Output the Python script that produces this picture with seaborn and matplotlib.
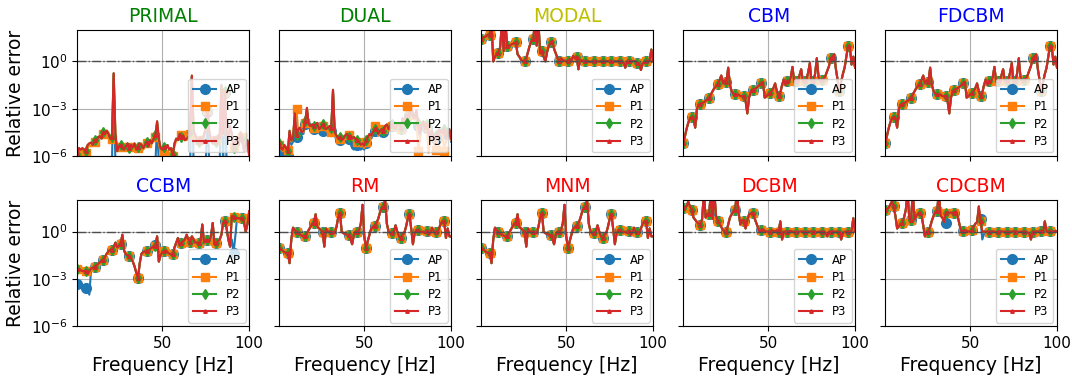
import numpy as np
import matplotlib
matplotlib.use("Agg")
import matplotlib.pyplot as plt
from matplotlib.ticker import NullLocator
import seaborn as sns

# frequency grid [Hz]
freq = list(range(1, 101))

# log10 of the relative error (1 value per Hz)
primal_ap = [-6.6, -6.5, -6.7, -6.5, -6.6, -6.8, -6.5, -6.5, -6.6, -6.5,
             -6.5, -6.6, -6.5, -6.5, -6.6, -6.5, -6.6, -6.5, -6.6, -6.5,
             -6.5, -0.8, -6.5, -6.7, -6.6, -6.5, -6.8, -6.6, -6.5, -6.6,
             -6.6, -6.5, -6.6, -6.5, -6.7, -6.6, -6.5, -6.5, -6.7, -6.5,
             -6.5, -6.5, -6.6, -6.5, -6.6, -6.5, -4.0, -6.5, -6.7, -6.8,
             -6.6, -6.7, -6.5, -6.8, -6.6, -6.9, -6.5, -6.6, -6.5, -6.6,
             -6.5, -6.6, -6.5, -6.6, -6.5, -6.5, -1.0, -6.5, -6.6, -6.5,
             -6.6, -6.5, -6.5, -6.6, -6.5, -3.2, -6.5, -6.6, -6.5, -6.6,
             -6.6, -6.5, -6.5, -1.6, -6.5, -2.0, -6.5, -6.6, -6.5, -6.6,
             -6.6, -6.5, -6.6, -6.5, -6.5, -6.6, -6.8, -6.5, -6.6, -6.9]
primal_p1 = [-5.8, -5.7, -5.6, -5.7, -5.9, -5.8, -5.5, -5.3, -5.4, -5.2,
             -5.1, -5.0, -4.9, -4.8, -4.8, -4.6, -4.5, -4.4, -4.5, -4.8,
             -4.9, -0.8, -4.7, -5.5, -5.5, -5.4, -5.6, -5.5, -5.3, -5.3,
             -5.4, -5.4, -5.3, -5.3, -5.5, -5.5, -5.3, -5.2, -5.6, -5.4,
             -5.2, -5.3, -5.1, -5.1, -5.0, -4.8, -3.9, -5.2, -5.8, -6.1,
             -5.9, -6.2, -5.8, -5.9, -5.7, -6.0, -5.4, -5.0, -4.9, -4.7,
             -4.7, -4.8, -4.9, -5.0, -4.7, -4.6, -0.95, -4.5, -4.8, -4.9,
             -5.0, -4.9, -5.1, -4.7, -4.4, -3.1, -4.5, -4.9, -5.1, -4.9,
             -5.0, -4.8, -4.8, -1.55, -4.7, -1.95, -4.5, -4.9, -4.2, -4.7,
             -5.4, -5.2, -4.9, -5.2, -4.6, -4.8, -5.6, -5.3, -5.1, -6.0]
primal_p3 = [-5.9, -5.5, -5.6, -5.5, -5.6, -5.7, -5.3, -5.2, -5.15, -5.3,
             -5.0, -5.1, -4.8, -4.75, -4.9, -4.5, -4.6, -4.4, -4.6, -4.9,
             -4.8, -0.75, -4.6, -5.7, -5.4, -5.3, -5.5, -5.6, -5.4, -5.2,
             -5.5, -5.3, -5.45, -5.2, -5.6, -5.4, -5.2, -5.3, -5.5, -5.3,
             -5.1, -5.4, -5.0, -5.2, -4.9, -4.7, -3.8, -4.9, -5.5, -5.6,
             -5.4, -5.5, -5.3, -5.6, -5.5, -5.9, -5.2, -4.9, -5.0, -4.6,
             -4.8, -4.7, -5.0, -4.9, -4.8, -4.5, -0.9, -4.4, -4.7, -5.0,
             -5.1, -4.8, -5.2, -4.6, -4.3, -3.05, -4.4, -5.0, -5.2, -4.8,
             -5.1, -4.7, -4.9, -1.5, -4.6, -1.9, -4.4, -5.0, -4.1, -4.6,
             -5.5, -5.1, -4.8, -5.3, -4.5, -4.9, -5.7, -5.2, -5.0, -6.0]

dual_ap = [-5.6, -5.9, -6.1, -5.8, -5.9, -6.0, -4.8, -5.3, -5.1, -3.8,
           -4.8, -4.6, -4.4, -4.6, -4.6, -4.0, -3.1, -4.2, -4.3, -4.2,
           -4.3, -4.2, -4.1, -4.5, -4.6, -4.4, -4.5, -4.6, -4.4, -4.3,
           -4.4, -1.85, -4.7, -5.0, -5.1, -5.0, -5.2, -5.1, -4.9, -4.7,
           -4.9, -5.2, -5.5, -5.6, -5.4, -5.3, -5.4, -5.6, -5.5, -5.6,
           -5.2, -5.0, -4.8, -4.9, -4.7, -4.4, -4.3, -4.7, -4.5, -4.4,
           -4.5, -4.2, -4.1, -4.4, -4.2, -4.1, -4.3, -4.4, -4.1, -4.0,
           -4.3, -3.7, -4.1, -3.5, -3.9, -3.4, -2.8, -3.6, -3.7, -3.2,
           -4.1, -4.8, -4.2, -4.0, -4.5, -4.2, -4.8, -5.0, -4.6, -5.2,
           -4.9, -5.1, -4.5, -4.7, -4.7, -4.5, -5.1, -4.7, -4.5, -5.1]
dual_p1 = [-5.3, -5.5, -5.7, -5.4, -5.6, -5.6, -4.5, -5.1, -4.8, -3.5,
           -3.05, -4.5, -4.3, -4.4, -4.5, -3.9, -3.0, -4.1, -4.2, -4.1,
           -4.2, -4.1, -4.0, -4.4, -4.3, -4.1, -4.3, -4.4, -4.5, -4.6,
           -4.5, -1.9, -4.6, -4.9, -5.0, -4.9, -4.9, -5.0, -4.8, -4.9,
           -4.7, -4.8, -5.0, -4.9, -5.1, -5.1, -5.2, -5.4, -5.3, -5.5,
           -5.1, -4.9, -4.7, -4.8, -4.4, -4.1, -4.3, -4.7, -4.5, -4.4,
           -4.3, -4.2, -4.1, -4.4, -4.2, -4.1, -4.3, -4.4, -4.1, -4.0,
           -4.3, -3.7, -4.1, -3.5, -3.9, -3.4, -2.8, -3.6, -3.7, -3.2,
           -5.7, -5.0, -4.1, -3.9, -4.4, -4.1, -5.8, -4.9, -4.5, -5.1,
           -5.6, -5.0, -4.4, -4.6, -4.6, -5.7, -5.0, -4.6, -4.4, -5.0]
dual_p3 = [-5.2, -5.5, -5.6, -5.3, -5.5, -5.7, -4.4, -5.0, -4.9, -3.3,
           -4.7, -4.3, -4.2, -4.5, -4.4, -3.8, -2.95, -4.0, -4.1, -4.0,
           -4.1, -4.0, -3.9, -4.3, -4.2, -4.0, -4.2, -4.3, -4.2, -4.1,
           -4.2, -1.8, -4.5, -4.7, -4.9, -4.8, -5.0, -4.9, -4.7, -4.6,
           -4.8, -4.7, -4.9, -4.8, -4.9, -5.0, -5.1, -5.3, -5.2, -5.35,
           -5.0, -4.8, -4.6, -4.7, -4.5, -4.3, -4.2, -4.6, -4.4, -4.3,
           -4.4, -4.1, -4.0, -4.3, -4.1, -4.0, -4.2, -4.3, -4.0, -3.9,
           -4.2, -3.6, -4.0, -3.4, -3.8, -3.3, -2.75, -3.5, -3.6, -3.1,
           -3.9, -4.6, -4.0, -3.8, -4.3, -4.0, -4.6, -4.8, -4.4, -5.0,
           -4.7, -4.9, -4.3, -4.5, -4.5, -4.3, -4.9, -4.5, -4.3, -4.9]

modal_all = [1.4, 1.5, 1.55, 1.6, 1.7, 1.7, 2.5, 0.0, 0.3, 0.5,
             0.55, 0.9, 2.5, 0.65, 2.5, 1.0, 0.95, 1.05, 1.1, 1.15,
             1.2, 0.45, 0.3, 0.1, 0.0, 0.0, 0.2, 0.6, 1.0, 1.3,
             1.4, 2.5, 1.0, 2.5, 0.5, 0.65, 0.3, 0.0, 0.6, 1.0,
             1.2, 1.3, 0.8, 0.5, 0.2, 0.0, 0.2, 0.1, 0.05, 0.0,
             0.0, 0.15, 0.05, 0.35, 0.2, 0.3, -0.5, 0.1, 0.05, 0.0,
             0.0, 0.02, 0.0, -0.05, 0.0, 0.0, 0.03, -0.02, 0.0, 0.0,
             0.0, -0.03, 0.0, 0.02, 0.0, 0.0, -0.05, 0.0, 0.0, 0.02,
             0.0, 0.0, -0.05, -0.4, 0.0, 0.05, 0.0, 0.0, 0.02, 0.0,
             -0.1, -0.15, -0.55, -0.1, -0.1, 0.0, 0.0, 0.05, 0.75, 0.0]

cbm_all = [-5.2, -4.8, -4.3, -3.9, -3.6, -3.55, -3.6, -4.2, -3.0, -2.75,
           -2.7, -2.65, -2.6, -2.5, -2.4, -2.3, -2.1, -1.9, -1.7, -1.55,
           -1.45, -1.2, -0.9, -1.4, -1.2, -1.3, -0.4, -1.5, -1.9, -2.05,
           -2.1, -2.15, -2.1, -2.2, -2.2, -2.2, -2.5, -3.3, -2.3, -1.9,
           -1.8, -1.75, -1.7, -1.6, -1.5, -1.4, -1.3, -2.3, -2.2, -2.1,
           -2.0, -1.9, -1.7, -1.4, -1.9, -2.2, -2.0, -1.5, -1.15, -1.5,
           -1.25, -1.3, -1.0, -0.35, -1.3, -1.25, -1.4, -0.9, -0.5, -1.3,
           -1.25, -1.2, -0.7, -0.1, -1.6, -1.25, -0.8, 0.2, -1.0, -1.3,
           -1.15, -1.1, -0.9, -0.6, -0.3, 0.2, 0.3, 0.45, -0.5, -1.2,
           -1.9, -1.3, -0.8, -0.4, 0.3, 1.0, 0.95, -0.2, 0.3, -0.4]

ccbm_ap = [-3.35, -3.4, -3.45, -3.5, -3.55, -3.55, -3.7, -4.0, -2.4, -2.3,
           -2.25, -2.15, -2.05, -1.95, -1.85, -1.8, -1.6, -1.4, -1.25, -1.15,
           -1.15, -1.0, -0.7, -1.0, -0.9, -0.8, -0.2, -1.2, -1.45, -1.5,
           -1.55, -1.7, -1.9, -2.2, -2.6, -2.95, -2.0, -1.4, -1.3, -1.15,
           -1.2, -1.15, -1.1, -1.0, -0.9, -0.85, -0.3, -1.9, -1.5, -1.3,
           -1.25, -1.2, -1.3, -1.4, -1.45, -1.45, -1.0, -0.7, -0.4, -0.9,
           -0.7, -0.6, -0.5, -0.2, -0.5, -0.65, -0.3, -0.5, -0.7, -0.7,
           -0.7, -0.6, 0.45, -0.7, -0.55, -0.5, -0.6, -0.3, 0.55, -0.8,
           -0.75, -0.6, -0.5, -0.2, 0.55, 0.7, 0.2, -0.5, -0.95, -0.5,
           -1.35, -0.3, 0.85, 0.85, 0.85, 0.85, 0.6, 0.0, 0.5, 1.3]
ccbm_p = [-2.35, -2.4, -2.45, -2.5, -2.5, -2.5, -2.7, -2.5, -2.35, -2.3,
          -2.25, -2.15, -2.05, -1.95, -1.85, -1.8, -1.6, -1.4, -1.25, -1.15,
          -1.15, -1.0, -0.7, -1.0, -0.9, -0.8, -0.2, -1.2, -1.45, -1.5,
          -1.55, -1.7, -1.9, -2.2, -2.6, -2.95, -2.0, -1.4, -1.3, -1.25,
          -1.25, -1.2, -1.1, -1.0, -0.95, -0.9, -0.3, -1.9, -1.5, -1.3,
          -1.25, -1.2, -1.3, -1.4, -1.45, -1.45, -1.0, -0.7, -0.4, -0.9,
          -0.7, -0.6, -0.5, -0.2, -0.5, -0.65, -0.3, -0.5, -0.7, -0.7,
          -0.7, -0.6, 0.45, -0.7, -0.55, -0.5, -0.6, -0.3, 0.55, -0.8,
          -0.75, -0.6, -0.5, -0.2, 0.55, 0.7, 0.2, -0.5, -0.95, 1.0,
          0.95, 0.9, 0.85, 0.85, 0.85, 0.85, 0.6, 0.0, 0.5, 1.3]

rm_all = [-1.05, -1.1, -1.2, -1.3, -1.35, -1.35, -2.0, -0.5, 0.25, 0.1,
          0.0, -0.1, -0.2, -0.25, -0.3, -0.3, -0.1, 0.1, 0.3, 0.5,
          0.55, 1.1, 0.3, 0.2, 0.1, 0.0, -0.95, 0.2, 0.0, 0.0,
          0.0, -0.05, -0.1, 0.3, 0.9, 1.2, 0.0, -0.1, -0.15, -0.2,
          -0.2, -0.4, -0.8, -0.2, 0.0, 0.0, 0.1, 0.5, 1.7, -0.3,
          -1.05, -0.6, -0.2, 0.2, 0.3, 0.35, 0.55, 0.8, 1.2, 1.5,
          1.55, 2.0, 0.5, 0.0, -0.1, -0.1, 0.0, 0.4, 0.0, -0.3,
          -0.4, -0.2, -0.1, 0.3, 0.8, 1.1, 0.2, -0.8, -0.1, 0.1,
          0.1, 0.0, -0.05, 0.0, -0.1, 0.05, -0.2, -0.1, 0.25, 0.0,
          -0.05, -0.1, 0.2, 0.5, 0.65, 0.65, -0.4, 0.2, -0.3, -0.3]

dcbm_all = [1.5, 1.55, 1.6, 1.9, 1.6, 1.4, 0.9, 0.75, 0.6, 0.5,
            0.45, 0.8, 2.5, 0.9, 1.1, 1.1, 2.5, 0.8, 2.5, 1.0,
            0.65, 0.5, 0.3, 0.1, 0.0, 0.0, 0.45, 0.9, 1.1, 1.3,
            1.4, 2.5, 1.2, 0.45, 0.75, 0.7, 0.2, 0.7, 1.1, 1.15,
            1.2, 0.9, 0.6, 0.3, 0.0, 0.1, 0.15, 0.05, 0.0, 0.0,
            0.0, 0.1, 0.05, 0.0, 0.1, 0.0, 0.65, -0.5, 0.0, 0.0,
            0.0, 0.02, 0.05, 0.0, 0.0, -0.05, 0.0, 0.0, 0.02, 0.0,
            0.0, -0.03, 0.0, 0.0, 0.02, 0.0, 0.0, -0.05, 0.0, 0.0,
            0.0, 0.0, -0.05, -0.3, 0.0, 0.0, 0.03, 0.0, 0.0, 0.0,
            -0.05, -0.5, -0.1, 0.0, 0.0, 0.0, 0.0, 0.05, 0.85, 0.0]

cdcbm_ap = [1.4, 1.45, 1.5, 1.7, 1.9, 1.6, 1.0, 0.2, 0.35, 0.5,
            0.55, 0.9, 1.4, 2.5, 0.8, 0.75, 2.5, 0.75, 1.0, 1.15,
            1.2, 1.1, 0.4, -0.3, 0.0, 0.0, 0.3, 0.7, 1.0, 1.25,
            1.3, 2.5, 1.0, 0.9, 0.6, 0.55, 1.0, 1.2, 1.2, 1.2,
            1.2, 1.3, 0.9, 0.4, 0.0, 0.05, 0.1, 0.05, 0.0, 0.0,
            0.1, 0.3, 0.5, 0.6, 1.0, 0.8, -0.5, -0.15, 0.0, 0.0,
            0.0, 0.0, 0.02, 0.0, -0.03, 0.0, 0.0, 0.02, 0.0, 0.0,
            0.0, -0.02, 0.0, 0.0, 0.03, 0.0, 0.0, -0.03, 0.0, 0.0,
            0.0, 0.0, -0.05, -0.1, -0.5, 0.0, 0.0, 0.02, 0.0, 0.0,
            0.05, 0.0, 0.65, 0.0, 0.0, 0.02, 0.0, 0.0, 0.05, 0.0]
cdcbm_p = [1.4, 1.45, 1.5, 1.7, 1.9, 1.6, 1.0, 0.2, 0.35, 0.5,
           0.55, 0.9, 1.4, 2.5, 0.8, 0.75, 2.5, 0.75, 1.0, 1.15,
           1.2, 1.1, 0.4, -0.3, 0.0, 0.0, 0.3, 0.7, 1.0, 1.25,
           1.3, 2.5, 1.0, 0.9, 0.6, 1.2, 1.25, 1.2, 1.2, 1.2,
           1.2, 1.3, 0.9, 0.4, 0.0, 0.05, 0.1, 0.05, 0.0, 0.0,
           0.1, 0.3, 0.5, 0.6, 1.6, 0.65, 0.0, 0.0, 0.0, 0.0,
           0.0, 0.0, 0.02, 0.0, -0.03, 0.0, 0.0, 0.02, 0.0, 0.0,
           0.0, -0.02, 0.0, 0.0, 0.03, 0.0, 0.0, -0.03, 0.0, 0.0,
           0.0, 0.0, -0.05, -0.1, -0.5, 0.0, 0.0, 0.02, 0.0, 0.0,
           0.05, 0.0, 0.65, 0.0, 0.0, 0.02, 0.0, 0.0, 0.05, 0.0]

# title, title colour, AP, P1, P2, P3
panels = [
    ("PRIMAL", "green", primal_ap, primal_p1, primal_p3, primal_p3),
    ("DUAL", "green", dual_ap, dual_p1, dual_p3, dual_p3),
    ("MODAL", "y", modal_all, modal_all, modal_all, modal_all),
    ("CBM", "b", cbm_all, cbm_all, cbm_all, cbm_all),
    ("FDCBM", "b", cbm_all, cbm_all, cbm_all, cbm_all),
    ("CCBM", "b", ccbm_ap, ccbm_p, ccbm_p, ccbm_p),
    ("RM", "r", rm_all, rm_all, rm_all, rm_all),
    ("MNM", "r", rm_all, rm_all, rm_all, rm_all),
    ("DCBM", "r", dcbm_all, dcbm_all, dcbm_all, dcbm_all),
    ("CDCBM", "r", cdcbm_ap, cdcbm_p, cdcbm_p, cdcbm_p),
]

labels = ["AP", "P1", "P2", "P3"]
markers = ["o", "s", "d", "^"]
msizes = [7, 5.5, 5, 2.5]
colors = sns.color_palette("tab10")[:4]

fig, axes = plt.subplots(2, 5, figsize=(10.72, 3.78), dpi=100, sharex=True, sharey=True)
fig.subplots_adjust(left=0.072, right=0.986, top=0.921, bottom=0.137, wspace=0.174, hspace=0.35)

for ax, (title, tcol, *series) in zip(axes.flat, panels):
    for vals, lab, mk, ms, c in zip(series, labels, markers, msizes, colors):
        sns.lineplot(x=freq, y=np.power(10.0, vals), ax=ax, color=c, label=lab,
                     marker=mk, markersize=ms, markevery=5, markeredgecolor=c,
                     markeredgewidth=1, linewidth=1.5)
    ax.axhline(1.0, color="0.3", linestyle="-.", linewidth=1)
    ax.set_yscale("log")
    ax.set_title(title, color=tcol, fontsize=13.5)
    ax.grid(True)
    ax.legend(loc="lower right", fontsize=8.5, borderaxespad=0.3, labelspacing=0.35)
    ax.set_xlabel("")
    ax.set_ylabel("")
    ax.tick_params(labelsize=11)

ax0 = axes[0, 0]
ax0.set_ylim(1e-6, 1e2)
ax0.set_yticks([1e-6, 1e-3, 1e0])
ax0.yaxis.set_minor_locator(NullLocator())
ax0.set_xlim(1, 100)
ax0.set_xticks([50, 100])

for ax in axes[:, 0]:
    ax.set_ylabel("Relative error", fontsize=13.5)
for ax in axes[1, :]:
    ax.set_xlabel("Frequency [Hz]", fontsize=13.5)

fig.savefig("out.png", dpi=100)
